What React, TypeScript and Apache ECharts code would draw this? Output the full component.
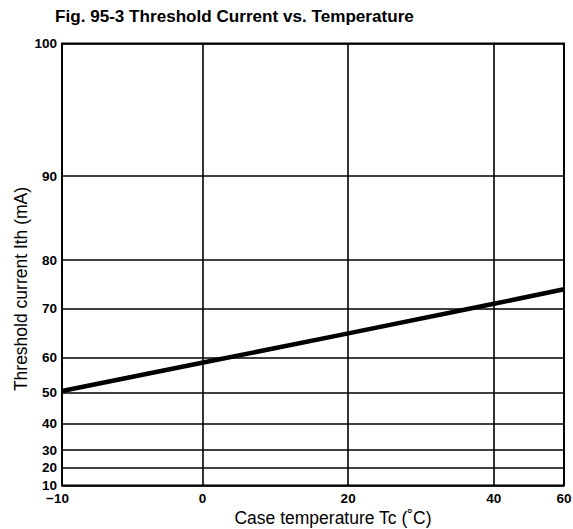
import React, { useEffect, useRef } from "react";
import * as echarts from "echarts";

// Case temperature (°C) and threshold current (mA)
const tempC = [-10, 0, 20, 40, 60];
const ithMA = [50.2, 58.4, 65.0, 71.1, 74.0];

// Axis ticks and the (non-uniform) printed scale of the chart paper
const xTicks = [-10, 0, 20, 40, 60];
const xTickLabels = ["\u221210", "0", "20", "40", "60"];
const xScaleFrac = [0, 0.2839, 0.5703, 0.8552, 1];

const yTicks = [10, 20, 30, 40, 50, 60, 70, 80, 90, 100];
const yTickLabels = ["10", "20", "30", "40", "50", "60", "70", "80", "90", "100"];
const yScaleFrac = [0, 0.0389, 0.0842, 0.1391, 0.2122, 0.2914, 0.3971, 0.514, 0.6986, 1];

function piecewise(v: number, ks: number[], fs: number[]): number {
  if (v <= ks[0]) return fs[0];
  for (let i = 1; i < ks.length; i++) {
    if (v <= ks[i]) {
      const t = (v - ks[i - 1]) / (ks[i] - ks[i - 1]);
      return fs[i - 1] + t * (fs[i] - fs[i - 1]);
    }
  }
  return fs[fs.length - 1];
}
const mapX = (v: number) => piecewise(v, xTicks, xScaleFrac);
const mapY = (v: number) => piecewise(v, yTicks, yScaleFrac);

const FONT = '"Liberation Sans", Arial, Helvetica, sans-serif';

export default function App() {
  const ref = useRef<HTMLDivElement>(null);
  useEffect(() => {
    if (!ref.current) return;
    const chart = echarts.init(ref.current, null, { renderer: "svg" });
    const tickLabel = {
      show: true,
      position: "start",
      color: "#000",
      fontSize: 13.5,
      fontWeight: "bold",
      fontFamily: FONT,
      distance: 5,
    };
    const hLines = yTicks.map((v, i) => ({
      yAxis: mapY(v),
      label: { ...tickLabel, formatter: yTickLabels[i] },
    }));
    const vLines = xTicks.map((v, i) => ({
      xAxis: mapX(v),
      label: {
        ...tickLabel,
        formatter: xTickLabels[i],
        distance: 6,
        padding: i === 0 ? [0, 9, 0, 0] : 0,
      },
    }));
    chart.setOption({
      animation: false,
      backgroundColor: "#fff",
      grid: {
        left: 62,
        right: 9,
        top: 43.5,
        bottom: 43.5,
        show: true,
        borderColor: "#000",
        borderWidth: 2,
        backgroundColor: "transparent",
      },
      xAxis: { type: "value", min: 0, max: 1, show: false },
      yAxis: { type: "value", min: 0, max: 1, show: false },
      series: [
        {
          type: "line",
          data: tempC.map((t, i) => [mapX(t), mapY(ithMA[i])]),
          symbol: "none",
          lineStyle: { color: "#000", width: 4.5 },
          z: 5,
          markLine: {
            silent: true,
            symbol: "none",
            animation: false,
            lineStyle: { color: "#000", width: 1.6, type: "solid" },
            data: [...hLines, ...vLines],
          },
        },
      ],
      graphic: [
        {
          type: "text",
          x: 55,
          y: 16.5,
          scaleX: 1.07,
          style: {
            text: "Fig. 95-3 Threshold Current vs. Temperature",
            font: `bold 16px ${FONT}`,
            fill: "#000",
            align: "left",
            verticalAlign: "middle",
          },
        },
        {
          type: "text",
          x: 333,
          y: 518,
          style: {
            text: "Case temperature Tc (\u02DAC)",
            font: `17.5px ${FONT}`,
            fill: "#000",
            align: "center",
            verticalAlign: "middle",
          },
        },
        {
          type: "text",
          x: 21,
          y: 289,
          rotation: Math.PI / 2,
          style: {
            text: "Threshold current Ith (mA)",
            font: `17.5px ${FONT}`,
            fill: "#000",
            align: "center",
            verticalAlign: "middle",
          },
        },
      ],
    });
    return () => chart.dispose();
  }, []);
  return (
    <div
      ref={ref}
      style={{ position: "fixed", left: 0, top: 0, width: 573, height: 529, background: "#fff" }}
    />
  );
}
